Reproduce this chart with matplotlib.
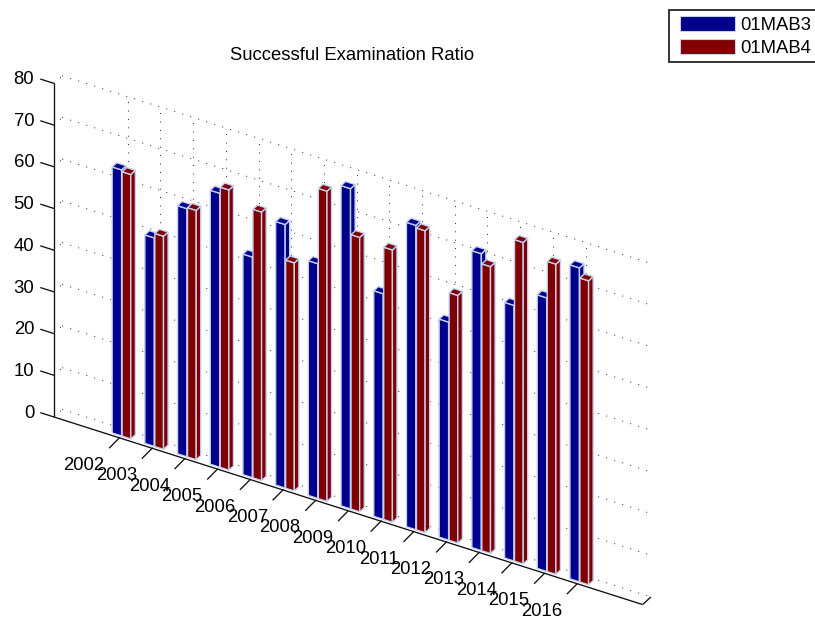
"""Successful examination ratio, drawn as 3-D bars on an oblique projection."""
import matplotlib
matplotlib.use('Agg')
import matplotlib.pyplot as plt
from matplotlib.patches import Patch, Polygon, Rectangle

plt.rcParams['font.family'] = ['Liberation Sans', 'DejaVu Sans']

years = list(range(2002, 2017))
mab3 = [63.8, 50.0, 59.5, 65.7, 52.9, 63.2, 56.3, 76.8, 54.1, 73.0, 52.3, 71.2, 61.3, 65.6, 75.3]
mab4 = [63.4, 51.1, 59.8, 67.2, 64.4, 54.7, 74.4, 65.8, 65.3, 72.4, 59.4, 68.8, 77.1, 74.4, 72.9]
z_ticks = [0, 10, 20, 30, 40, 50, 60, 70, 80]
series_names = ['01MAB3', '01MAB4']

BLUE = '#00008c'
RED = '#800000'
EDGE = '#c4d2f0'
x_min, x_max = 2000, 2018


def project(year, depth, z):
    sx = 54 + 32.7 * (year - x_min) + 4.15 * depth
    sy = 417 + 10.42 * (year - x_min) - 3.8 * depth - 4.17 * z
    return sx, sy


def draw_bar(ax, x0, x1, value, color):
    d0, d1 = 0.5, 1.6
    faces = [
        [(x0, d0, 0), (x1, d0, 0), (x1, d0, value), (x0, d0, value)],
        [(x1, d0, 0), (x1, d1, 0), (x1, d1, value), (x1, d0, value)],
        [(x0, d0, value), (x1, d0, value), (x1, d1, value), (x0, d1, value)],
    ]
    for face in faces:
        ax.add_patch(Polygon(
            [project(*p) for p in face],
            closed=True,
            facecolor=color,
            edgecolor=EDGE,
            linewidth=1.0,
            zorder=3,
        ))


def line3(ax, p0, p1, **kwargs):
    a = project(*p0)
    b = project(*p1)
    ax.plot([a[0], b[0]], [a[1], b[1]], **kwargs)


fig = plt.figure(figsize=(8.15, 6.18), dpi=100)
ax = fig.add_axes([0, 0, 1, 1])
ax.set_xlim(0, 815)
ax.set_ylim(618, 0)
ax.axis('off')

grid = dict(color='#000000', linewidth=0.65, linestyle=(0, (1, 8.3)), zorder=1)
solid = dict(color='#111111', linewidth=0.95, solid_capstyle='butt', zorder=2)

for z in z_ticks:
    line3(ax, (x_min, 0, z), (x_min, 2, z), **grid)
    line3(ax, (x_min, 2, z), (x_max, 2, z), **grid)
    line3(ax, (x_min, 0, z), (x_min - 0.42, 0, z), **solid)
    sx, sy = project(x_min - 0.42, 0, z)
    ax.text(sx - 6, sy + 0.5, str(z), fontsize=13.3, ha='right', va='center')

for year in years:
    line3(ax, (year, 2, 0), (year, 2, z_ticks[-1]), **grid)
    line3(ax, (year, 0, 0), (year, 2, 0), **grid)
    sx, sy = project(year, 0, 0)
    ax.plot([sx, sx - 10.3], [sy, sy + 10.4], **solid)
    ax.text(sx - 15, sy + 27.5, str(year), fontsize=13.3, ha='right', va='center')

line3(ax, (x_min, 0, 0), (x_min, 0, z_ticks[-1]), **solid)
line3(ax, (x_min, 0, 0), (x_max, 0, 0), **solid)
line3(ax, (x_max, 0, 0), (x_max, 2, 0), **solid)

for year, v3, v4 in zip(years, mab3, mab4):
    draw_bar(ax, year - 0.285, year + 0.005, v3, BLUE)
    draw_bar(ax, year + 0.02, year + 0.285, v4, RED)

ax.text(352, 55, 'Successful Examination Ratio', fontsize=13.3, ha='center', va='center')

# the legend box runs off the right edge of the figure
ax.add_patch(Rectangle((669, 10), 160, 52, facecolor='white', edgecolor='#111111',
                       linewidth=1.2, zorder=4))
handles = [
    Patch(facecolor=BLUE, edgecolor=EDGE, linewidth=0.8),
    Patch(facecolor=RED, edgecolor=EDGE, linewidth=0.8),
]
leg = ax.legend(
    handles,
    series_names,
    loc='upper left',
    bbox_to_anchor=(680, 15.5),
    bbox_transform=ax.transData,
    fontsize=13.3,
    frameon=False,
    borderaxespad=0,
    borderpad=0,
    handlelength=2.98,
    handleheight=0.9,
    handletextpad=0.28,
    labelspacing=0.3,
)
leg.set_zorder(5)

plt.savefig('out.png', dpi=100)
